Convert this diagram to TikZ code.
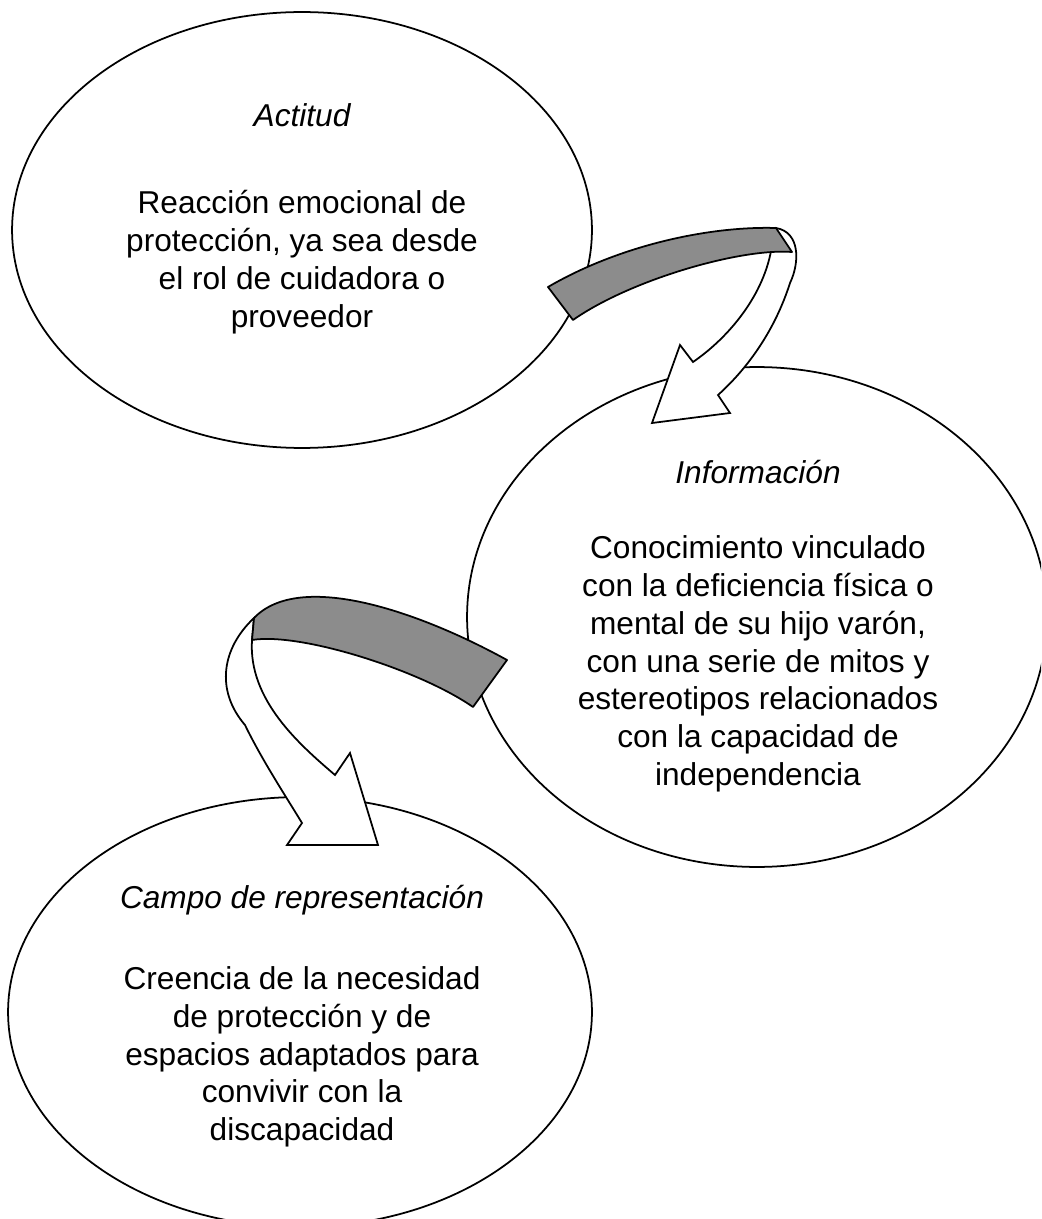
\documentclass[tikz,border=0pt]{standalone}
\usepackage{fontspec}
\setmainfont{Liberation Sans}
\usepackage{tikz}
\usetikzlibrary{shapes.geometric}

\tikzset{
  bubble/.style={draw, ellipse, inner sep=0pt, line width=1pt},
  rubro/.style={inner sep=0pt, font=\fontsize{18}{21.5}\selectfont\itshape},
  cuerpo/.style={inner sep=0pt, align=center, font=\fontsize{18}{21.5}\selectfont},
  flecha/.style={draw, fill=white, line width=1pt, line join=miter},
  cinta/.style={draw, fill=black!45, line width=1pt, line join=round}
}

\begin{document}
\begin{tikzpicture}[x=0.02cm, y=-0.02cm]
        \useasboundingbox (0,0) rectangle (1041,1219);
        \clip (0,0) rectangle (1041,1219);

        % the three ellipses
        \node[bubble, minimum width=11.6cm, minimum height=8.72cm] (actitud) at (302,230) {};
        \node[bubble, minimum width=11.6cm, minimum height=10cm] (informacion) at (757,617) {};
        \node[bubble, minimum width=11.68cm, minimum height=8.6cm] (campo) at (300,1012) {};

        \node[rubro] (t1) at (302,115) {Actitud};
        \node[cuerpo] (c1) at (302,262) {Reacción emocional de\\protección, ya sea desde\\el rol de cuidadora o\\proveedor};

        \node[rubro] (t2) at (758,472) {Información};
        \node[cuerpo] (c2) at (758,664) {Conocimiento vinculado\\con la deficiencia física o\\mental de su hijo varón,\\con una serie de mitos y\\estereotipos relacionados\\con la capacidad de\\independencia};

        \node[rubro] (t3) at (302,900) {Campo de representación};
        \node[cuerpo] (c3) at (302,1057) {Creencia de la necesidad\\de protección y de\\espacios adaptados para\\convivir con la\\discapacidad};

        % first curved arrow
        \path[flecha] (776,228) .. controls (800,232) and (800,262) .. (790,283)
            .. controls (775,330) and (748,368) .. (718,395)
            -- (730,413) -- (652,423) -- (680,345) -- (693,362)
            .. controls (728,338) and (765,295) .. (772,245) -- cycle;
        \path[cinta] (548,287) .. controls (620,245) and (710,226) .. (776,228)
            -- (792,252) .. controls (740,248) and (630,280) .. (573,320) -- cycle;

        % second curved arrow
        \path[flecha] (254,618) .. controls (222,648) and (215,690) .. (245,725)
            .. controls (262,760) and (285,795) .. (302,823)
            -- (287,845) -- (378,845) -- (350,753) -- (335,775)
            .. controls (300,745) and (248,700) .. (252,640) -- cycle;
        \path[cinta] (507,660) .. controls (420,612) and (300,570) .. (254,618)
            -- (252,640) .. controls (300,632) and (420,670) .. (473,707) -- cycle;
    \end{tikzpicture}
\end{document}
